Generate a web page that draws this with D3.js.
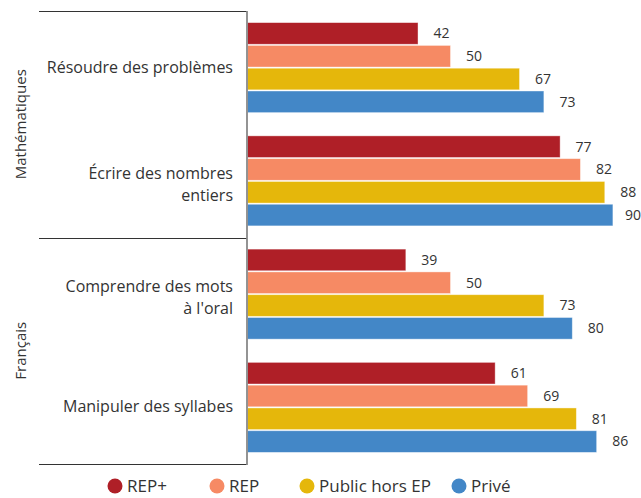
<!DOCTYPE html>
<html>
<head>
<meta charset="utf-8">
<script src="https://cdn.jsdelivr.net/npm/d3@7"></script>
<style>
  body { margin: 0; background: #fff; }
  svg { display: block; font-family: "Open Sans", sans-serif; }
</style>
</head>
<body>
<div id="chart"></div>
<script>
// categories (each label split into its display lines)
const categories = ["Résoudre des problèmes", "Écrire des nombres entiers", "Comprendre des mots à l'oral", "Manipuler des syllabes"];
const categoryLines = [["Résoudre des problèmes"], ["Écrire des nombres", "entiers"], ["Comprendre des mots", "à l'oral"], ["Manipuler des syllabes"]];
const subjects = ["Mathématiques", "Français"];
const subjectOfCategory = [0, 0, 1, 1];

const seriesNames = ["REP+", "REP", "Public hors EP", "Privé"];
const repPlus = [42, 77, 39, 61];
const rep = [50, 82, 50, 69];
const publicHorsEP = [67, 88, 73, 81];
const prive = [73, 90, 80, 86];
const seriesValues = [repPlus, rep, publicHorsEP, prive];

const colors = ["#af1f27", "#f68a64", "#e5b70b", "#4387c7"];

const width = 641, height = 498;
const axisX = 247, plotTop = 11, plotBottom = 464;

const svg = d3.select("#chart").append("svg")
  .attr("width", width)
  .attr("height", height)
  .attr("viewBox", [0, 0, width, height]);

const y = d3.scaleBand()
  .domain(categories)
  .range([plotTop, plotBottom])
  .paddingInner(0.205)
  .paddingOuter(0.1025);

const ySub = d3.scaleBand()
  .domain(seriesNames)
  .range([0, y.bandwidth()])
  .paddingInner(0.05);

const x = d3.scaleLinear().domain([0, 100]).range([axisX, 653]);

// bars
const groups = svg.append("g")
  .selectAll("g")
  .data(categories)
  .join("g")
  .attr("transform", d => `translate(0,${y(d)})`);

groups.each(function (cat, ci) {
  const rows = seriesNames.map((s, si) => ({ s, si, v: seriesValues[si][ci] }));
  const g = d3.select(this);
  g.selectAll("rect")
    .data(rows)
    .join("rect")
    .attr("x", x(0) + 0.5)
    .attr("y", d => ySub(d.s))
    .attr("width", d => x(d.v) - x(0))
    .attr("height", ySub.bandwidth())
    .attr("fill", d => colors[d.si])
    .attr("stroke", "#fff")
    .attr("stroke-opacity", 0.5)
    .attr("stroke-width", 0.8);
  g.selectAll("text")
    .data(rows)
    .join("text")
    .attr("x", d => Math.min(x(d.v) + 16, 625))
    .attr("y", d => ySub(d.s) + ySub.bandwidth() / 2)
    .attr("dy", "0.35em")
    .attr("fill", "#333")
    .style("font-size", "14px")
    .text(d => d.v);
});

// category labels
svg.append("g")
  .selectAll("text")
  .data(categories)
  .join("text")
  .attr("text-anchor", "end")
  .attr("fill", "#333")
  .style("font-size", "16px")
  .each(function (d, i) {
    const lines = categoryLines[i];
    const cy = y(d) + y.bandwidth() / 2;
    const t = d3.select(this);
    lines.forEach((line, li) => {
      const yy = lines.length === 1 ? cy + 5 : cy - 2 + li * 22;
      t.append("tspan").attr("x", 233).attr("y", yy).text(line);
    });
  });

// subject separators and labels
const subjRanges = subjects.map((s, si) => {
  const cats = categories.filter((c, ci) => subjectOfCategory[ci] === si);
  return { s, y0: y(cats[0]) - y.step() * y.paddingInner() / 2, y1: y(cats[cats.length - 1]) + y.bandwidth() + y.step() * y.paddingInner() / 2 };
});
subjRanges[0].y0 = plotTop;
subjRanges[subjRanges.length - 1].y1 = plotBottom;

const lineYs = [plotTop].concat(subjRanges.map(r => r.y1));
svg.append("g")
  .selectAll("line")
  .data(lineYs)
  .join("line")
  .attr("x1", 39)
  .attr("x2", axisX)
  .attr("y1", d => Math.round(d) + 0.5)
  .attr("y2", d => Math.round(d) + 0.5)
  .attr("stroke", "#333")
  .attr("stroke-width", 1.2);

svg.append("g")
  .selectAll("text")
  .data(subjRanges)
  .join("text")
  .attr("transform", d => `translate(26,${(d.y0 + d.y1) / 2}) rotate(-90)`)
  .attr("text-anchor", "middle")
  .attr("fill", "#333")
  .style("font-size", "15px")
  .text(d => d.s);

// vertical axis line
svg.append("line")
  .attr("x1", axisX)
  .attr("x2", axisX)
  .attr("y1", plotTop)
  .attr("y2", plotBottom + 1)
  .attr("stroke", "#888")
  .attr("stroke-width", 1.8);

// legend
const legendX = [115, 217, 307, 459];
const legend = svg.append("g")
  .selectAll("g")
  .data(seriesNames)
  .join("g")
  .attr("transform", (d, i) => `translate(${legendX[i]},486)`);
legend.append("circle").attr("r", 7.5).attr("fill", (d, i) => colors[i]);
legend.append("text")
  .attr("x", 12)
  .attr("dy", "0.35em")
  .attr("fill", "#333")
  .style("font-size", "17px")
  .text(d => d);
</script>
</body>
</html>
